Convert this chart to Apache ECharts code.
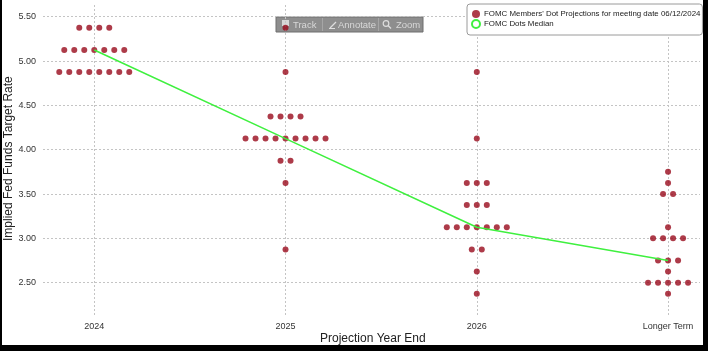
<!DOCTYPE html>
<html>
<head>
<meta charset="utf-8">
<script src="https://cdn.jsdelivr.net/npm/echarts@6/dist/echarts.min.js"></script>
<style>
  html, body { margin: 0; padding: 0; background: #000; }
  #frame { position: absolute; left: 2px; top: 0; width: 701px; height: 345px; background: #fff; }
  #c { position: absolute; left: 0; top: 0; width: 708px; height: 351px; }
</style>
</head>
<body>
<div id="frame"></div>
<div id="c"></div>
<script>
// ---- data ----
const categories = ['2024', '2025', '2026', 'Longer Term'];
// [rate, number of participants]
const dots2024 = [[5.375, 4], [5.125, 7], [4.875, 8]];
const dots2025 = [[5.375, 1], [4.875, 1], [4.375, 4], [4.125, 9], [3.875, 2], [3.625, 1], [2.875, 1]];
const dots2026 = [[4.875, 1], [4.125, 1], [3.625, 3], [3.375, 3], [3.125, 7], [2.875, 2], [2.625, 1], [2.375, 1]];
const dotsLonger = [[3.75, 1], [3.625, 1], [3.5, 2], [3.125, 1], [3.0, 4], [2.75, 3], [2.625, 1], [2.5, 5], [2.375, 1]];
const medians = [5.125, 4.125, 3.125, 2.75];
const yTicks = [2.5, 3.0, 3.5, 4.0, 4.5, 5.0, 5.5];
const dotsName = "FOMC Members' Dot Projections for meeting date 06/12/2024";
const medianName = 'FOMC Dots Median';

// ---- build ----
const DOT_SPACING = 10;
const allDots = [dots2024, dots2025, dots2026, dotsLonger];
const scatterData = [];
allDots.forEach(function (rows, c) {
  rows.forEach(function (r) {
    const n = r[1];
    for (let i = 0; i < n; i++) {
      scatterData.push({
        value: [c, r[0]],
        symbolOffset: [(i - (n - 1) / 2) * DOT_SPACING, 0]
      });
    }
  });
});
const medianData = medians.map(function (v, i) { return [i, v]; });
const catIdx = categories.map(function (_, i) { return i; });

const FONT = 'Liberation Sans, Arial, sans-serif';
const chart = echarts.init(document.getElementById('c'), null, { renderer: 'canvas' });
chart.setOption({
  animation: false,
  backgroundColor: 'transparent',
  grid: { left: 43, right: 8, top: 5, bottom: 34, containLabel: false },
  xAxis: {
    type: 'value',
    min: -0.268,
    max: 3.167,
    axisLine: { show: false },
    axisTick: { show: false, customValues: catIdx },
    axisLabel: {
      customValues: catIdx,
      formatter: function (v) { return categories[Math.round(v)]; },
      color: '#333', fontSize: 9, fontFamily: FONT, margin: 5
    },
    splitLine: { show: true, lineStyle: { color: '#c4c4c4', type: [2, 2], width: 1 } }
  },
  yAxis: {
    type: 'value',
    min: 2.113,
    max: 5.632,
    axisLine: { show: false },
    axisTick: { show: false, customValues: yTicks },
    axisLabel: {
      customValues: yTicks,
      formatter: function (v) { return v.toFixed(2); },
      color: '#333', fontSize: 9, fontFamily: FONT, margin: 7
    },
    splitLine: { show: true, lineStyle: { color: '#c4c4c4', type: [2, 2], width: 1 } }
  },
  legend: {
    orient: 'vertical',
    left: 467,
    top: 4,
    padding: [6, 2, 6, 4],
    itemGap: 1,
    itemWidth: 8,
    itemHeight: 8,
    backgroundColor: '#fff',
    borderColor: '#9a9a9a',
    borderWidth: 1,
    borderRadius: 3,
    selectedMode: false,
    textStyle: { fontSize: 7.9, color: '#1a1a1a', fontFamily: FONT, padding: [0, 0, 0, -1] },
    data: [
      { name: dotsName, icon: 'circle' },
      { name: medianName, icon: 'emptyCircle' }
    ]
  },
  graphic: [
    { type: 'text', left: 320, top: 333,
      style: { text: 'Projection Year End', fontSize: 12, fontFamily: FONT, fill: '#222' } },
    { type: 'text', x: 3, y: 241, rotation: Math.PI / 2,
      style: { text: 'Implied Fed Funds Target Rate', fontSize: 12, fontFamily: FONT, fill: '#222', verticalAlign: 'top' } },
    {
      type: 'group', x: 276, y: 17, z: 1,
      children: [
        { type: 'rect', shape: { x: 0, y: 0, width: 147, height: 15 }, style: { fill: '#8e8e8e', stroke: '#6e6e6e', lineWidth: 1 } },
        { type: 'line', shape: { x1: 46.5, y1: 1, x2: 46.5, y2: 14 }, style: { stroke: '#a6a6a6', lineWidth: 1 } },
        { type: 'line', shape: { x1: 102.5, y1: 1, x2: 102.5, y2: 14 }, style: { stroke: '#a6a6a6', lineWidth: 1 } },
        { type: 'rect', shape: { x: 6, y: 3, width: 7, height: 6 }, style: { fill: '#d6d6d6' } },
        { type: 'text', x: 17, y: 3, style: { text: 'Track', fontSize: 9.5, fontFamily: FONT, fill: '#d8d8d8' } },
        { type: 'line', shape: { x1: 54, y1: 11, x2: 60, y2: 5 }, style: { stroke: '#dedede', lineWidth: 1.2 } },
        { type: 'line', shape: { x1: 53, y1: 11.5, x2: 59, y2: 11.5 }, style: { stroke: '#dedede', lineWidth: 1 } },
        { type: 'text', x: 62, y: 3, style: { text: 'Annotate', fontSize: 9.5, fontFamily: FONT, fill: '#d8d8d8' } },
        { type: 'circle', shape: { cx: 110, cy: 6.5, r: 2.8 }, style: { fill: 'none', stroke: '#dedede', lineWidth: 1.2 } },
        { type: 'line', shape: { x1: 112, y1: 8.5, x2: 115, y2: 11.5 }, style: { stroke: '#dedede', lineWidth: 1.4 } },
        { type: 'text', x: 120, y: 3, style: { text: 'Zoom', fontSize: 9.5, fontFamily: FONT, fill: '#d8d8d8' } }
      ]
    }
  ],
  series: [
    {
      name: dotsName,
      type: 'scatter',
      z: 3,
      symbol: 'circle',
      symbolSize: 6,
      itemStyle: { color: '#990a1c' },
      data: scatterData
    },
    {
      name: medianName,
      type: 'line',
      z: 4,
      showSymbol: false,
      symbol: 'emptyCircle',
      itemStyle: { color: '#3ff03f' },
      lineStyle: { color: '#3ff03f', width: 1.6 },
      data: medianData
    }
  ]
});
</script>
</body>
</html>
